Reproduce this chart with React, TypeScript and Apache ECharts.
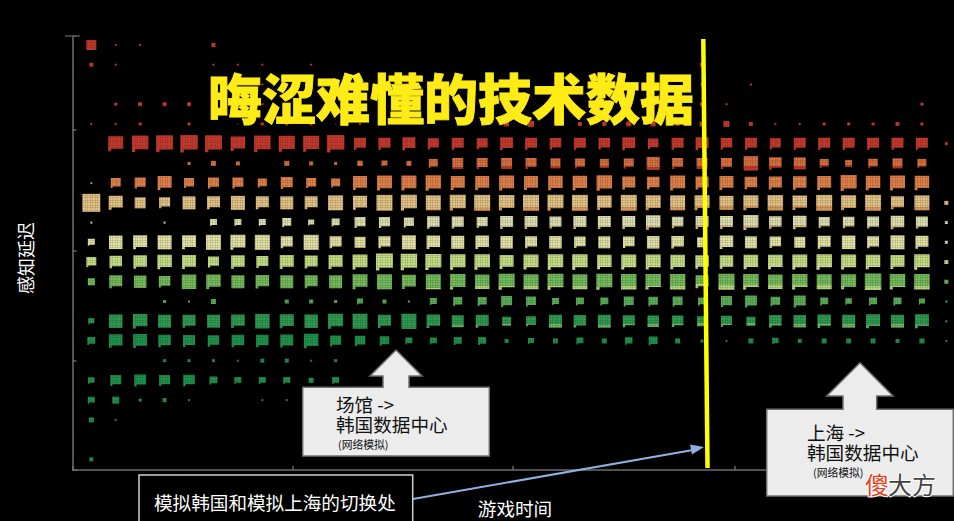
import React, { useEffect, useRef } from "react";
import * as echarts from "echarts";

const FONT = '"Noto Sans CJK SC", sans-serif';

// Square side for each time step (36 columns), one list per latency bin, top to bottom.
const bin00 = [10,2,2,0,0,4,0,0,0,0,0,0,0,0,0,0,0,0,0,0,0,0,0,0,0,0,0,0,0,0,0,0,0,0,0,0];
const bin01 = [4,2,0,0,0,2,2,2,0,2,0,0,0,0,0,0,0,0,0,0,0,0,0,0,0,4,0,0,0,0,0,0,0,0,0,0];
const bin02 = [0,0,0,0,0,0,0,2,0,0,0,0,0,0,0,0,0,0,0,0,0,0,0,0,0,3,0,2,0,0,0,0,0,0,0,0];
const bin03 = [0,3,4,4,4,0,0,2,0,0,0,0,0,0,0,0,0,0,0,0,0,0,0,0,0,4,2,0,0,0,0,0,0,0,3,0];
const bin04 = [2,2,3,0,3,0,1,3,3,3,1,2,0,0,0,0,0,5,6,0,4,4,5,5,4,5,6,4,2,2,3,3,3,4,3,0];
const bin05 = [0,15,16.5,17,17.5,17,14.5,16.5,16,16,17.5,12,12,13,11,12,11,13,12,11.5,12,11.5,13,10.5,12,13,11.5,12,11,12,12,12,12,12,12,3];
const bin06 = [0,0,0,0,3,5,4,0,5,4,3,5.5,6,5,9,11,11,11,11,10,10,9,10,13,11,11,11,14.5,12.5,12,9,7,9.5,10,9,0];
const bin07 = [2,10,11,14,10,11,11,9,12,10,9,14,15,15,15.5,14,14,15,14,14.5,14.5,15.5,13,12.5,15,13,14,12.5,13,13.5,14,16,14.5,15,14.5,0];
const bin08 = [18,14,11,11,13,13,14,13,13,13,15,14,16,16,15,16,16,15.5,16,16,16,14.5,16,15,15,15,14,15,15.5,14.5,16,15,16,13,15,4];
const bin09 = [2,0,0,2,0,7,7,7,9,6,8,11,11,10,12.5,12,11,13,13,12,13,13,13,14.5,11.5,13,13,15,12.5,13.5,11,11.5,12,13.5,12,3];
const bin10 = [7,13.5,14,14,14,15,15,15,12,15,12,11,12,14,13.5,13,13.5,12.5,12,12.5,11.5,12,11.5,12.5,12.5,10,13.5,12,11.5,11,13,13.5,12,14,13,3];
const bin11 = [10,12.5,13.5,14.5,14,11,13.5,12,14,13,14,15,17,16.5,16,15.5,15.5,14,15,15.5,15.5,14.5,15,15,14.5,13.5,13.5,14.5,14.5,15,15.5,15,14.5,14,15.5,4];
const bin12 = [7,13,12.5,11.5,14.5,14.5,13,13.5,13,13,13,15,15,14,15,15.5,14.5,16,15,16,15,16,15.5,15.5,15.5,13,16,15.5,14.5,15.5,15,15,16.5,15.5,15.5,4];
const bin13 = [0,0,0,3,2,5,0,0,4,4,3,6,4,2,7,9,9,11,10,7,8,8,10,9.5,10,8,11,12,9.5,12,8,6.5,8,8,6,2];
const bin14 = [6,13.5,14.5,13,13,13,13.5,14.5,14,13.5,15,15,13,15,13.5,12,13,9,10,13,12.5,13,12,11.5,11.5,10,11,9,12.5,12.5,13.5,13,14,13,14,2];
const bin15 = [8,13.5,14,12.5,12,11.5,12.5,12.5,13,14.5,11,10.5,9.5,7,7,8,8,4,6,5,7,5,7.5,9,5,3,2,5,6.5,4,5,5,5,4,5,2];
const bin16 = [0,0,0,3,3,3,2,4,4,2,3,0,0,0,0,0,0,0,0,0,0,0,0,0,0,0,0,0,0,0,0,0,0,0,0,0];
const bin17 = [6.5,11,12,11,11.5,8,7,7,7,5,7,0,0,0,0,0,0,0,0,0,0,0,0,0,0,0,0,0,0,0,0,0,0,0,0,0];
const bin18 = [7,7,3,4,2,0,0,2,2,0,0,0,0,0,0,0,0,0,0,0,0,0,0,0,0,0,0,0,0,0,0,0,0,0,0,0];
const bin19 = [5,2,0,0,0,0,0,0,0,0,0,0,0,0,0,0,0,0,0,0,0,0,0,0,0,0,0,0,0,0,0,0,0,0,0,0];
const bin20 = new Array(36).fill(0);
const bin21 = [4,0,0,0,0,0,0,0,0,0,0,0,0,0,0,0,0,0,0,0,0,0,0,0,0,0,0,0,0,0,0,0,0,0,0,0];
const bins = [bin00,bin01,bin02,bin03,bin04,bin05,bin06,bin07,bin08,bin09,bin10,bin11,bin12,bin13,bin14,bin15,bin16,bin17,bin18,bin19,bin20,bin21];

const binColors = ["#c43a2c","#c43a2c","#c43a2c","#c43a2c","#c43a2c","#c63a2d","#d8703f","#e0824a","#e3c386","#e0e0b2","#e4e3a6","#c6de86","#75bc5c","#5ab05a","#2f9c52","#21934b","#21934b","#21934b","#21934b","#21934b","#21934b","#21934b"];
const binLowerColors: Record<number, string> = { 6: "#c43a2c", 8: "#dc9a5c", 9: "#d8bd86", 11: "#dcdfa0", 12: "#b9d97c", 14: "#70b85c" };
const lowerShare = [0,0,0,0,0,0,0,0,0,0,0,0,.05,.05,.1,.15,.18,.22,.25,.25,.22,.2,.25,.25,.25,.3,.28,.3,.3,.3,.28,.25,.25,.25,.25,0];

const xTicks = [-0.77, 8.23, 17.27, 26.32];
const yTicks = [-0.456, 4.31, 10.42, 16.02, 21.54];

const NOTCHED = "path://M0 0H100V84H20V100H0Z";
const SQUARE = "rect";

function fillFor(row: number, col: number) {
  const low = binLowerColors[row];
  const s = lowerShare[col];
  if (!low || !s) return binColors[row];
  return new echarts.graphic.LinearGradient(0, 0, 0, 1, [
    { offset: 0, color: binColors[row] },
    { offset: 1 - s, color: binColors[row] },
    { offset: 1 - s, color: low },
    { offset: 1, color: low },
  ]);
}

const points: any[] = [];
bins.forEach((bin, row) =>
  bin.forEach((size, col) => {
    if (size > 0)
      points.push({
        value: [col, row, size],
        symbol: size > 5 && (row + col * 2) % 4 !== 0 ? NOTCHED : SQUARE,
        itemStyle: { color: fillFor(row, col) },
      });
  })
);

function meshTile() {
  const c = document.createElement("canvas");
  c.width = 5;
  c.height = 5;
  const g = c.getContext("2d")!;
  g.fillStyle = "rgba(0,0,0,0.11)";
  [0, 2].forEach((i) => {
    g.fillRect(i, 0, 1, 5);
    g.fillRect(0, i, 5, 1);
  });
  return c;
}

const boxStyle = { fill: "#ececec", stroke: "#6f6f6f", lineWidth: 1.5 };

// r = [left, top, width, height]; a = [tipX, tipY, wingY, wingLeft, wingRight, stemLeft, stemRight]
const callout = (r: number[], a: number[], l1: string, tx: number, ty: number, smallX: number) => [
  { type: "polygon", z: 100, shape: { points: [[a[5], r[1] + 1], [a[5], a[2]], [a[3], a[2]], [a[0], a[1]], [a[4], a[2]], [a[6], a[2]], [a[6], r[1] + 1]] }, style: boxStyle },
  { type: "rect", z: 100, shape: { x: r[0], y: r[1], width: r[2], height: r[3] }, style: boxStyle },
  { type: "rect", z: 100, shape: { x: a[5] + 0.8, y: r[1] - 1.5, width: a[6] - a[5] - 1.6, height: 3 }, style: { fill: "#ececec" } },
  { type: "text", z: 101, x: tx, y: ty - 10,
    style: { text: l1 + "\n韩国数据中心", fontSize: 18.6, lineHeight: 20, fontFamily: FONT, fill: "#111", textVerticalAlign: "top" } },
  { type: "text", z: 101, x: smallX, y: ty + 41,
    style: { text: "(网络模拟)", fontSize: 10.8, fontFamily: FONT, fill: "#111", textVerticalAlign: "middle" } },
];

export default function App() {
  const ref = useRef<HTMLDivElement>(null);
  useEffect(() => {
    const chart = echarts.init(ref.current!, null, { renderer: "svg" });
    chart.setOption({
      animation: false,
      backgroundColor: "#000",
      grid: { left: 72.5, right: 4, top: 36, bottom: 51 },
      xAxis: {
        type: "value", position: "bottom", min: -0.77, max: 35.15,
        splitLine: { show: false },
        axisLine: { onZero: false, lineStyle: { color: "#6e6e6e", width: 1.5 } },
        axisTick: { inside: true, length: 4, customValues: xTicks, lineStyle: { color: "#6e6e6e", width: 1.5 } },
        axisLabel: { show: false },
      },
      yAxis: {
        type: "value", position: "left", inverse: true, min: -0.456, max: 21.54,
        splitLine: { show: false },
        axisLine: { onZero: false, lineStyle: { color: "#6e6e6e", width: 1.5 } },
        axisTick: { inside: true, length: 4, customValues: yTicks, lineStyle: { color: "#6e6e6e", width: 1.5 } },
        axisLabel: { show: false },
      },
      series: [{
        type: "scatter",
        data: points,
        symbolSize: (v: number[]) => v[2],
        itemStyle: { opacity: 1 },
      }],
      graphic: [
        { type: "rect", z: 50, silent: true, shape: { x: 74, y: 37, width: 880, height: 431 },
          style: { fill: { image: meshTile(), repeat: "repeat", imageWidth: 5, imageHeight: 5 } } },
        { type: "line", z: 50, shape: { x1: 65, y1: 36, x2: 80, y2: 36 }, style: { stroke: "#555", lineWidth: 1.5 } },
        { type: "text", z: 90, x: 451, y: 96,
          style: { text: "晦涩难懂的技术数据", fontSize: 54, fontWeight: 900, fontFamily: FONT, fill: "#ffec17", stroke: "#ffec17", lineWidth: 0.8, textAlign: "center", textVerticalAlign: "middle" } },
        { type: "line", z: 91, shape: { x1: 703.3, y1: 39, x2: 707.5, y2: 468 }, style: { stroke: "#ffff00", lineWidth: 4.5 } },
        { type: "text", z: 90, x: 25, y: 258, rotation: Math.PI / 2,
          style: { text: "感知延迟", fontSize: 18, fontFamily: FONT, fill: "#fff", textAlign: "center", textVerticalAlign: "middle" } },
        { type: "text", z: 90, x: 515, y: 507,
          style: { text: "游戏时间", fontSize: 18.6, fontFamily: FONT, fill: "#fff", textAlign: "center", textVerticalAlign: "middle" } },
        ...callout([302.7, 387.3, 186.6, 68.7], [396, 350, 376, 370, 422, 383, 409], "场馆 ->", 336, 403, 338),
        ...callout([766.7, 409.3, 186.6, 86.7], [860, 362.7, 396, 826.7, 893, 843, 876.7], "上海 ->", 807, 431, 813),
        { type: "rect", z: 95, shape: { x: 139, y: 475, width: 273.7, height: 60 }, style: { fill: "#000", stroke: "#cfcfcf", lineWidth: 1.5 } },
        { type: "text", z: 96, x: 154, y: 501, style: { text: "模拟韩国和模拟上海的切换处", fontSize: 18.6, fontFamily: FONT, fill: "#fff", textVerticalAlign: "middle" } },
        { type: "line", z: 92, shape: { x1: 413, y1: 499, x2: 693, y2: 450 }, style: { stroke: "#8fb0e2", lineWidth: 2 } },
        { type: "polygon", z: 92, shape: { points: [[704, 447], [690, 444.5], [692, 454.5]] }, style: { fill: "#8fb0e2" } },
        { type: "text", z: 102, x: 865, y: 483, style: { text: "傻", fontSize: 24, fontFamily: FONT, fill: "#e8401c", stroke: "#fff", lineWidth: 2, textVerticalAlign: "middle" } },
        { type: "text", z: 102, x: 888, y: 483, style: { text: "大方", fontSize: 24, fontFamily: FONT, fill: "#444", stroke: "#fff", lineWidth: 2, textVerticalAlign: "middle" } },
      ],
    });
    return () => chart.dispose();
  }, []);
  return <div ref={ref} style={{ position: "fixed", left: 0, top: 0, width: 954, height: 521, background: "#000" }} />;
}
